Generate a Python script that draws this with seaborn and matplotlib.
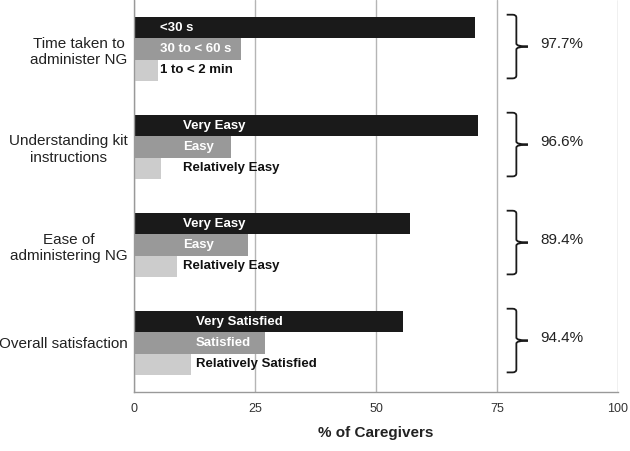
import matplotlib
matplotlib.use("Agg")
import matplotlib.pyplot as plt
from matplotlib.path import Path
from matplotlib.patches import PathPatch
import seaborn as sns
import pandas as pd

# ---- data ----
categories = ["Time taken to\nadminister NG", "Understanding kit\ninstructions",
              "Ease of\nadministering NG", "Overall satisfaction"]
top_vals = [70.5, 71.0, 57.0, 55.6]
mid_vals = [22.2, 20.0, 23.5, 27.0]
low_vals = [5.0, 5.6, 8.9, 11.8]
top_labels = ["<30 s", "Very Easy", "Very Easy", "Very Satisfied"]
mid_labels = ["30 to < 60 s", "Easy", "Easy", "Satisfied"]
low_labels = ["1 to < 2 min", "Relatively Easy", "Relatively Easy", "Relatively Satisfied"]
totals = ["97.7%", "96.6%", "89.4%", "94.4%"]
xticks = [0, 25, 50, 75, 100]

# ---- style ----
levels = ["top", "mid", "low"]
palette = {"top": "#1a1a1a", "mid": "#999999", "low": "#cccccc"}
text_colors = {"top": "white", "mid": "white", "low": "#111111"}
label_x = [5.4, 10.1, 10.1, 12.8]

sns.set_style("white")
plt.rcParams["font.family"] = ["Liberation Sans", "DejaVu Sans"]

rows = []
for lvl, vals, labs in zip(levels, [top_vals, mid_vals, low_vals],
                           [top_labels, mid_labels, low_labels]):
    for c, v, l in zip(categories, vals, labs):
        rows.append({"category": c, "level": lvl, "value": v, "label": l})
df = pd.DataFrame(rows)

fig = plt.figure(figsize=(6.3, 4.51), dpi=100)
ax = fig.add_axes([134 / 630, 1 - 392 / 451, (618 - 134) / 630, 392 / 451])

sns.barplot(data=df, y="category", x="value", hue="level", hue_order=levels,
            order=categories, palette=palette, orient="h", width=0.65,
            linewidth=0, saturation=1, legend=False, ax=ax)

ax.set_xlim(0, 100)
ax.set_ylim(len(categories) - 0.5, -0.5)
ax.set_xticks(xticks)
ax.set_xticklabels([str(t) for t in xticks])
ax.grid(axis="x", color="#b5b5b5", lw=1.0)
ax.grid(axis="y", visible=False)
ax.set_axisbelow(True)

# y: major ticks at boundaries, labels at centres via minor ticks
ax.set_yticks([i - 0.5 for i in range(len(categories) + 1)])
ax.set_yticklabels([])
ax.set_yticks(range(len(categories)), minor=True)
ax.set_yticklabels(categories, minor=True, fontsize=11, color="#222222")
for lbl in ax.get_yticklabels(minor=True):
    lbl.set_multialignment("center")
ax.tick_params(axis="y", which="minor", length=0, pad=4.5)
ax.tick_params(axis="y", which="major", length=5, width=1, color="#999999", direction="out")
ax.tick_params(axis="x", length=6, width=1, color="#999999", direction="inout",
               labelsize=9, labelcolor="#333333", pad=5)

for s in ["top", "right"]:
    ax.spines[s].set_visible(False)
for s in ["left", "bottom"]:
    ax.spines[s].set_color("#999999")
    ax.spines[s].set_linewidth(1)

ax.set_ylabel("")
ax.set_xlabel("% of Caregivers", fontsize=11, fontweight="bold", color="#222222", labelpad=8)

# bar labels
lab_lists = {"top": top_labels, "mid": mid_labels, "low": low_labels}
for lvl, cont in zip(levels, ax.containers):
    for i, bar in enumerate(cont):
        yc = bar.get_y() + bar.get_height() / 2
        ax.text(label_x[i], yc, lab_lists[lvl][i], color=text_colors[lvl],
                fontsize=9.5, fontweight="bold", va="center", ha="left")

# braces with totals
x0, x1, x2, xt = 77.0, 79.0, 81.4, 83.9
rx, ry = 0.8, 0.03
for i, tot in enumerate(totals):
    top, bot, tip = i - 0.35, i + 0.30, i - 0.025
    verts = [(x0, top), (x1 - rx, top), (x1, top), (x1, top + ry),
             (x1, tip - ry), (x1, tip), (x2, tip),
             (x1, tip), (x1, tip + ry),
             (x1, bot - ry), (x1, bot), (x1 - rx, bot), (x0, bot)]
    codes = [Path.MOVETO, Path.LINETO, Path.CURVE3, Path.CURVE3,
             Path.LINETO, Path.CURVE3, Path.CURVE3,
             Path.CURVE3, Path.CURVE3,
             Path.LINETO, Path.CURVE3, Path.CURVE3, Path.LINETO]
    ax.add_patch(PathPatch(Path(verts, codes), fill=False, lw=1.3,
                           edgecolor="#1a1a1a", capstyle="butt"))
    ax.text(xt, i - 0.05, tot, fontsize=11, color="#222222", va="center", ha="left")

fig.savefig("out.png", dpi=100)
